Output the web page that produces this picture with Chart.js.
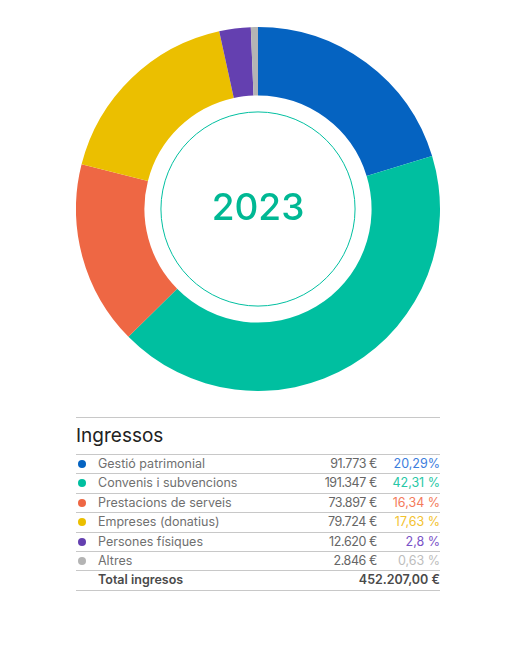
<!DOCTYPE html>
<html>
<head>
<meta charset="utf-8">
<script src="https://cdn.jsdelivr.net/npm/chart.js@4.4.1/dist/chart.umd.min.js"></script>
<style>
  body { margin: 0; width: 516px; height: 666px; background: #fff; font-family: "Inter", "Noto Sans", sans-serif; position: relative; overflow: hidden; }
  .chart-box { position: absolute; left: 76px; top: 27px; width: 364px; height: 364px; }
  .table-box { position: absolute; left: 76px; top: 417px; width: 364px; }
  .table-title { border-top: 1px solid #c8c8c8; border-bottom: 1px solid #c8c8c8; height: 36px; font-size: 19px; color: #222; line-height: 35px; }
  .row { position: relative; height: 18.4px; border-bottom: 1px solid #c8c8c8; font-size: 12.5px; line-height: 18.4px; color: #707070; }
  .dot { position: absolute; left: 2px; top: 5px; width: 8px; height: 8px; border-radius: 50%; }
  .label { position: absolute; left: 22px; }
  .amount { position: absolute; right: 63px; color: #666; letter-spacing: -0.4px; }
  .pct { position: absolute; right: 0; }
  .total { font-weight: 600; color: #4a4a4a; }
</style>
</head>
<body>
<div class="chart-box"><canvas id="ingressosChart"></canvas></div>
<div class="table-box">
  <div class="table-title">Ingressos</div>
  <div class="table-rows"></div>
</div>
<script>
const categories = ["Gestió patrimonial", "Convenis i subvencions", "Prestacions de serveis", "Empreses (donatius)", "Persones físiques", "Altres"];
const amounts = [91773, 191347, 73897, 79724, 12620, 2846];
const amountLabels = ["91.773 €", "191.347 €", "73.897 €", "79.724 €", "12.620 €", "2.846 €"];
const percentLabels = ["20,29%", "42,31 %", "16,34 %", "17,63 %", "2,8 %", "0,63 %"];
const sliceColors = ["#0563c1", "#00bfa0", "#ee6744", "#ebbf00", "#6440b0", "#b4b4b4"];
const percentColors = ["#3b7ddd", "#26c7a6", "#f47a5a", "#f3c22e", "#7a52c8", "#bdbdbd"];
const totalLabel = "452.207,00 €";
const yearLabel = "2023";

// inner ring + year in the hole
const centerPlugin = {
  id: "centerPlugin",
  afterDraw(chart) {
    const arc = chart.getDatasetMeta(0).data[0];
    if (!arc) return;
    const ctx = chart.ctx;
    const x = arc.x;
    const y = arc.y;
    ctx.save();
    ctx.beginPath();
    ctx.arc(x, y, arc.innerRadius - 16.5, 0, Math.PI * 2);
    ctx.strokeStyle = "#00bfa0";
    ctx.lineWidth = 1;
    ctx.stroke();
    ctx.fillStyle = "#00b894";
    ctx.font = "500 37px Inter, sans-serif";
    ctx.textAlign = "center";
    ctx.textBaseline = "middle";
    ctx.fillText(yearLabel, x, y);
    ctx.restore();
  }
};

new Chart(document.getElementById("ingressosChart"), {
  type: "doughnut",
  data: {
    labels: categories,
    datasets: [{
      data: amounts,
      backgroundColor: sliceColors,
      borderWidth: 0
    }]
  },
  options: {
    responsive: true,
    maintainAspectRatio: false,
    animation: false,
    cutout: "62.4%",
    layout: { padding: 0 },
    plugins: {
      legend: { display: false },
      tooltip: { enabled: false }
    }
  },
  plugins: [centerPlugin]
});

const rows = document.querySelector(".table-rows");
categories.forEach((name, i) => {
  const row = document.createElement("div");
  row.classList.add("row");

  const dot = document.createElement("span");
  dot.classList.add("dot");
  dot.style.background = sliceColors[i];

  const label = document.createElement("span");
  label.classList.add("label");
  label.textContent = name;

  const amount = document.createElement("span");
  amount.classList.add("amount");
  amount.textContent = amountLabels[i];

  const pct = document.createElement("span");
  pct.classList.add("pct");
  pct.style.color = percentColors[i];
  pct.textContent = percentLabels[i];

  row.appendChild(dot);
  row.appendChild(label);
  row.appendChild(amount);
  row.appendChild(pct);
  rows.appendChild(row);
});

const totalRow = document.createElement("div");
totalRow.classList.add("row", "total");
totalRow.innerHTML = '<span class="label">Total ingresos</span><span class="pct"></span>';
totalRow.querySelector(".pct").textContent = totalLabel;
rows.appendChild(totalRow);
</script>
</body>
</html>
